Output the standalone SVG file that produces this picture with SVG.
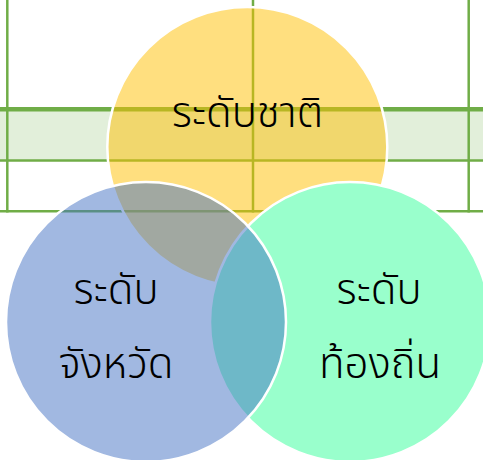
<svg xmlns="http://www.w3.org/2000/svg" width="483" height="460" viewBox="0 0 483 460">
<style>
.grid{stroke:#70AD47;fill:none}
.ring{stroke:#FFFFFF;stroke-width:2.5}
.lbl{font-family:"Noto Sans Thai","Noto Sans","DejaVu Sans",sans-serif;font-size:42px;font-weight:300;fill:#000000;text-anchor:middle}
</style>
<rect width="483" height="460" fill="#FFFFFF"/>
<g id="table">
<rect x="0" y="111" width="483" height="49" fill="#E2EFDA"/>
<line class="grid" x1="0" y1="109.3" x2="483" y2="109.3" stroke-width="4.5"/>
<line class="grid" x1="0" y1="160.5" x2="483" y2="160.5" stroke-width="2.5"/>
<line class="grid" x1="0" y1="211.2" x2="483" y2="211.2" stroke-width="2.5"/>
<line class="grid" x1="7.3" y1="0" x2="7.3" y2="212.5" stroke-width="2.5"/>
<line class="grid" x1="253" y1="0" x2="253" y2="212.5" stroke-width="2.5"/>
<line class="grid" x1="468.7" y1="0" x2="468.7" y2="212.5" stroke-width="2.5"/>
</g>
<g id="national">
<circle class="ring" cx="247.3" cy="147" r="140" fill="#FFC000" fill-opacity="0.5"/>
</g>
<g id="local">
<circle class="ring" cx="350" cy="322" r="140" fill="#99FFCC"/>
</g>
<g id="provincial">
<circle class="ring" cx="146" cy="322" r="140" fill="#4472C4" fill-opacity="0.5"/>
</g>
<g id="labels">
<text class="lbl" x="247.5" y="127">ระดับชาติ</text>
<text class="lbl" x="116" y="304">ระดับ</text>
<text class="lbl" x="116" y="378">จังหวัด</text>
<text class="lbl" x="379" y="304">ระดับ</text>
<text class="lbl" x="380" y="378">ท้องถิ่น</text>
</g>
<g id="connectors"/>
</svg>
